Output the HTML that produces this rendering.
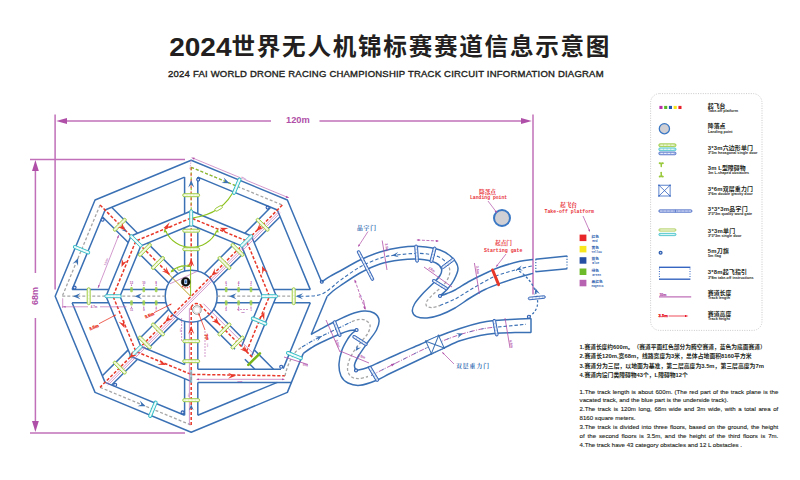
<!DOCTYPE html>
<html><head><meta charset="utf-8"><title>2024 FAI World Drone Racing Championship Track Circuit Information Diagram</title>
<style>html,body{margin:0;padding:0;background:#fff}body{width:800px;height:480px;overflow:hidden;font-family:"Liberation Sans",sans-serif}svg{display:block}</style>
</head><body>
<svg width="800" height="480" viewBox="0 0 800 480" font-family="Liberation Sans, sans-serif">
<g opacity="0.999"><line x1="55.1" y1="114.5" x2="55.1" y2="289.4" stroke="#c06fb8" stroke-width="1.5" /><line x1="533" y1="114.5" x2="533" y2="294.5" stroke="#c06fb8" stroke-width="1.5" /><line x1="62" y1="121" x2="271" y2="121" stroke="#c06fb8" stroke-width="1.5" /><line x1="319.5" y1="121" x2="526" y2="121" stroke="#c06fb8" stroke-width="1.5" /><polygon points="56.2,121 67,118 67,124" fill="#b04fa8"/><polygon points="531.8,121 521,118 521,124" fill="#b04fa8"/><text x="297.9" y="123.2" font-size="8.6" fill="#b04fa8" text-anchor="middle" font-weight="bold" font-family="Liberation Sans, sans-serif" textLength="23.8" lengthAdjust="spacingAndGlyphs" >120m</text><line x1="30" y1="159.5" x2="185" y2="159.5" stroke="#c06fb8" stroke-width="1.5" /><line x1="30" y1="433.1" x2="185" y2="433.1" stroke="#c06fb8" stroke-width="1.5" /><line x1="35.4" y1="166" x2="35.4" y2="273" stroke="#c06fb8" stroke-width="1.5" /><line x1="35.4" y1="318" x2="35.4" y2="426" stroke="#c06fb8" stroke-width="1.5" /><polygon points="35.4,160 32,171 38.8,171" fill="#b04fa8"/><polygon points="35.4,432 32,421 38.8,421" fill="#b04fa8"/><text x="38.2" y="296" font-size="8.8" fill="#b04fa8" text-anchor="middle" font-weight="bold" font-family="Liberation Sans, sans-serif" transform="rotate(-90 38.2 296)" textLength="18" lengthAdjust="spacingAndGlyphs" >68m</text><polyline points="321.6,282 287.37,200.03 191.2,160.2 95.03,200.03 55.2,296.2 95.03,392.37 191.2,432.2 287.37,392.37 303.2,353.6" fill="none" stroke="#3a70b4" stroke-width="1.5" stroke-linejoin="round" /><polyline points="327.2,296.2 311.2,334.5" fill="none" stroke="#3a70b4" stroke-width="1.5" stroke-linejoin="round" /><polyline points="197.8,177.11 277.34,210.06 310.29,289.6" fill="none" stroke="#3a70b4" stroke-width="1.5" stroke-linejoin="round" /><polyline points="310.29,302.8 283.2,368.6" fill="none" stroke="#3a70b4" stroke-width="1.5" stroke-linejoin="round" /><polyline points="197.8,415.29 277.34,382.34" fill="none" stroke="#3a70b4" stroke-width="1.5" stroke-linejoin="round" /><polyline points="184.6,415.29 105.06,382.34 72.11,302.8" fill="none" stroke="#3a70b4" stroke-width="1.5" stroke-linejoin="round" /><polyline points="72.11,289.6 105.06,210.06 184.6,177.11" fill="none" stroke="#3a70b4" stroke-width="1.5" stroke-linejoin="round" /><line x1="197.8" y1="271.05" x2="197.8" y2="227.73" stroke="#3a70b4" stroke-width="1.5" /><line x1="197.8" y1="213.73" x2="197.8" y2="177.11" stroke="#3a70b4" stroke-width="1.5" /><line x1="184.6" y1="271.05" x2="184.6" y2="227.73" stroke="#3a70b4" stroke-width="1.5" /><line x1="184.6" y1="213.73" x2="184.6" y2="177.11" stroke="#3a70b4" stroke-width="1.5" /><line x1="216.35" y1="302.8" x2="259.67" y2="302.8" stroke="#3a70b4" stroke-width="1.5" /><line x1="273.67" y1="302.8" x2="310.29" y2="302.8" stroke="#3a70b4" stroke-width="1.5" /><line x1="216.35" y1="289.6" x2="259.67" y2="289.6" stroke="#3a70b4" stroke-width="1.5" /><line x1="273.67" y1="289.6" x2="310.29" y2="289.6" stroke="#3a70b4" stroke-width="1.5" /><line x1="166.05" y1="289.6" x2="122.73" y2="289.6" stroke="#3a70b4" stroke-width="1.5" /><line x1="108.73" y1="289.6" x2="72.11" y2="289.6" stroke="#3a70b4" stroke-width="1.5" /><line x1="166.05" y1="302.8" x2="122.73" y2="302.8" stroke="#3a70b4" stroke-width="1.5" /><line x1="108.73" y1="302.8" x2="72.11" y2="302.8" stroke="#3a70b4" stroke-width="1.5" /><line x1="184.6" y1="321.35" x2="184.6" y2="364.67" stroke="#3a70b4" stroke-width="1.5" /><line x1="184.6" y1="378.67" x2="184.6" y2="415.29" stroke="#3a70b4" stroke-width="1.5" /><line x1="197.8" y1="321.35" x2="197.8" y2="369.2" stroke="#3a70b4" stroke-width="1.5" /><line x1="197.8" y1="382.4" x2="197.8" y2="415.29" stroke="#3a70b4" stroke-width="1.5" /><line x1="213.65" y1="283.08" x2="244.28" y2="252.45" stroke="#3a70b4" stroke-width="1.5" /><line x1="254.18" y1="242.55" x2="280.07" y2="216.66" stroke="#3a70b4" stroke-width="1.5" /><line x1="204.32" y1="273.75" x2="234.95" y2="243.12" stroke="#3a70b4" stroke-width="1.5" /><line x1="244.85" y1="233.22" x2="270.74" y2="207.33" stroke="#3a70b4" stroke-width="1.5" /><line x1="168.75" y1="309.32" x2="138.12" y2="339.95" stroke="#3a70b4" stroke-width="1.5" /><line x1="128.22" y1="349.85" x2="102.33" y2="375.74" stroke="#3a70b4" stroke-width="1.5" /><line x1="178.08" y1="318.65" x2="147.45" y2="349.28" stroke="#3a70b4" stroke-width="1.5" /><line x1="137.55" y1="359.18" x2="111.66" y2="385.07" stroke="#3a70b4" stroke-width="1.5" /><line x1="178.08" y1="273.75" x2="147.45" y2="243.12" stroke="#3a70b4" stroke-width="1.5" /><line x1="137.55" y1="233.22" x2="111.66" y2="207.33" stroke="#3a70b4" stroke-width="1.5" /><line x1="168.75" y1="283.08" x2="138.12" y2="252.45" stroke="#3a70b4" stroke-width="1.5" /><line x1="128.22" y1="242.55" x2="102.33" y2="216.66" stroke="#3a70b4" stroke-width="1.5" /><line x1="204.32" y1="318.65" x2="234.95" y2="349.28" stroke="#3a70b4" stroke-width="1.5" /><line x1="244.85" y1="359.18" x2="254.87" y2="369.2" stroke="#3a70b4" stroke-width="1.5" /><line x1="213.65" y1="309.32" x2="244.28" y2="339.95" stroke="#3a70b4" stroke-width="1.5" /><line x1="254.18" y1="349.85" x2="273.53" y2="369.2" stroke="#3a70b4" stroke-width="1.5" /><circle cx="191.2" cy="296.2" r="26" fill="none" stroke="#3a70b4" stroke-width="1.5"/><polyline points="251.45,356.45 276.4,296.2 251.45,235.95 191.2,211 130.95,235.95 106,296.2 130.95,356.45 191.2,381.4" fill="none" stroke="#3a70b4" stroke-width="1.5" stroke-linejoin="round" /><polyline points="241.55,346.55 262.4,296.2 241.55,245.85 191.2,225 140.85,245.85 120,296.2 140.85,346.55 184.6,364.67" fill="none" stroke="#3a70b4" stroke-width="1.5" stroke-linejoin="round" /><line x1="197.8" y1="369.2" x2="281" y2="369.2" stroke="#3a70b4" stroke-width="1.5" /><line x1="197.8" y1="382.4" x2="291.5" y2="382.4" stroke="#3a70b4" stroke-width="1.5" /><polyline points="191.2,167.29 282.35,205.05" fill="none" stroke="#a6a6a6" stroke-width="1.3" stroke-linejoin="round" stroke-dasharray="3 2" /><polyline points="100.05,205.05 62.29,296.2" fill="none" stroke="#a6a6a6" stroke-width="1.3" stroke-linejoin="round" stroke-dasharray="3 2" /><polyline points="100.05,387.35 191.2,425.11" fill="none" stroke="#a6a6a6" stroke-width="1.3" stroke-linejoin="round" stroke-dasharray="3 2" /><polyline points="191.2,167.29 238.6,186.92" fill="none" stroke="#8dc21f" stroke-width="1.1" stroke-linejoin="round" stroke-dasharray="3 2" /><line x1="62.29" y1="296.2" x2="165.2" y2="296.2" stroke="#a6a6a6" stroke-width="1.3" stroke-dasharray="3 2" /><line x1="217.2" y1="296.2" x2="300" y2="296.2" stroke="#a6a6a6" stroke-width="1.3" stroke-dasharray="3 2" /><line x1="191.2" y1="167.29" x2="191.2" y2="216.2" stroke="#8dc21f" stroke-width="1.1" stroke-dasharray="3 2" /><line x1="191.1" y1="167.29" x2="191.1" y2="218.2" stroke="#e8382a" stroke-width="0.9" stroke-dasharray="3 3" /><line x1="191.2" y1="218.2" x2="191.2" y2="266.2" stroke="#e8382a" stroke-width="1.5" stroke-dasharray="3.2 1.8" /><line x1="191.2" y1="425.11" x2="191.2" y2="306.2" stroke="#e8382a" stroke-width="1.5" stroke-dasharray="3.2 1.8" /><path d="M191.2 307.2 Q194.2 301.2 201.2 305.2" fill="none" stroke="#e8382a" stroke-width="1.5" stroke-linecap="butt" stroke-linejoin="round" stroke-dasharray="3.2 1.8" /><line x1="100.05" y1="205.05" x2="169.99" y2="274.99" stroke="#e8382a" stroke-width="1.5" stroke-dasharray="3.2 1.8" /><line x1="282.35" y1="205.05" x2="100.05" y2="387.35" stroke="#e8382a" stroke-width="1.5" stroke-dasharray="3.2 1.8" /><line x1="200.39" y1="305.39" x2="254" y2="359" stroke="#e8382a" stroke-width="1.5" stroke-dasharray="3.2 1.8" /><polyline points="246.5,351.5 269.4,296.2 246.5,240.9 191.2,218 135.9,240.9 113,296.2 135.9,351.5 191.2,374.4 285,375.8" fill="none" stroke="#e8382a" stroke-width="1.5" stroke-linejoin="round" stroke-dasharray="3.2 1.8" /><path d="M285 375.8 C285.25 374.83 285.67 372.47 286.5 370 C287.33 367.53 288.5 364 290 361 C291.5 358 293.5 354.33 295.5 352 C297.5 349.67 300.92 347.83 302 347" fill="none" stroke="#a6a6a6" stroke-width="1.3" stroke-linecap="butt" stroke-linejoin="round" stroke-dasharray="3 2" /><line x1="279.02" y1="211.49" x2="106.49" y2="384.02" stroke="#c06fb8" stroke-width="0.7" /><line x1="280.3" y1="212.76" x2="107.76" y2="385.3" stroke="#c06fb8" stroke-width="0.7" /><line x1="203.5" y1="303.7" x2="254.41" y2="354.61" stroke="#c06fb8" stroke-width="0.7" /><line x1="189.4" y1="308.2" x2="189.4" y2="425.11" stroke="#c06fb8" stroke-width="0.7" /><line x1="170" y1="283.8" x2="197.5" y2="271.2" stroke="#c06fb8" stroke-width="0.7" /><line x1="193.16" y1="158.21" x2="240.27" y2="177.73" stroke="#c06fb8" stroke-width="0.7" /><line x1="246.16" y1="180.17" x2="287.38" y2="197.24" stroke="#c06fb8" stroke-width="0.7" /><polygon points="191.2,157.4 194.84,157.77 194.03,159.71" fill="#b04fa8"/><polygon points="289.35,198.05 285.71,197.68 286.51,195.74" fill="#b04fa8"/><text x="243.22" y="179.45" font-size="2.8" fill="#b04fa8" text-anchor="middle" font-weight="bold" font-family="Liberation Sans, sans-serif" transform="rotate(22.5 243.22 179.45)" >37m</text><line x1="191.2" y1="160" x2="189.7" y2="170" stroke="#c06fb8" stroke-width="0.6" stroke-dasharray="1.5 1" /><line x1="118.8" y1="235" x2="98" y2="288" stroke="#c06fb8" stroke-width="0.7" /><polygon points="118.8,235 118.54,238.12 116.87,237.46" fill="#b04fa8"/><polygon points="98,288 98.26,284.88 99.93,285.54" fill="#b04fa8"/><text x="107" y="262" font-size="2.6" fill="#b04fa8" text-anchor="middle" font-weight="bold" font-family="Liberation Sans, sans-serif" transform="rotate(-68 107 262)" >13.5m</text><line x1="62" y1="306.8" x2="88" y2="306.8" stroke="#c06fb8" stroke-width="0.7" /><line x1="100" y1="306.8" x2="126.4" y2="306.8" stroke="#c06fb8" stroke-width="0.7" /><text x="94" y="307.8" font-size="2.8" fill="#b04fa8" text-anchor="middle" font-weight="bold" font-family="Liberation Sans, sans-serif" >4.7m</text><line x1="62.7" y1="298.3" x2="62.7" y2="308" stroke="#c06fb8" stroke-width="0.7" /><polygon points="63,306.8 65.6,305.89 65.6,307.71" fill="#b04fa8"/><line x1="197" y1="379.3" x2="284" y2="379.3" stroke="#c06fb8" stroke-width="0.7" /><polygon points="196,379.3 199,378.4 199,380.2" fill="#b04fa8"/><polygon points="285,379.3 282,380.2 282,378.4" fill="#b04fa8"/><text x="240" y="381.8" font-size="2.4" fill="#b04fa8" text-anchor="middle" font-weight="bold" font-family="Liberation Sans, sans-serif" >23m</text><line x1="181.6" y1="318" x2="181.6" y2="341" stroke="#c06fb8" stroke-width="0.7" stroke-dasharray="2 1" /><line x1="205" y1="331" x2="205" y2="358" stroke="#c06fb8" stroke-width="0.7" stroke-dasharray="2 1" /><text x="180.5" y="330" font-size="2.4" fill="#b04fa8" text-anchor="middle" font-weight="bold" font-family="Liberation Sans, sans-serif" transform="rotate(-90 180.5 330)" >5m</text><text x="208" y="345" font-size="2.4" fill="#b04fa8" text-anchor="middle" font-weight="bold" font-family="Liberation Sans, sans-serif" transform="rotate(-90 208 345)" >6m</text><text x="188.5" y="395" font-size="2.4" fill="#b04fa8" text-anchor="middle" font-weight="bold" font-family="Liberation Sans, sans-serif" transform="rotate(-90 188.5 395)" >8m</text><line x1="237" y1="309.5" x2="249" y2="309.5" stroke="#c06fb8" stroke-width="0.7" stroke-dasharray="2 1" /><text x="243" y="312.5" font-size="2.4" fill="#b04fa8" text-anchor="middle" font-weight="bold" font-family="Liberation Sans, sans-serif" >3m</text><path d="M165.8 231.2 A28 28 0 0 0 216.6 231.2" fill="none" stroke="#8dc21f" stroke-width="1.1" stroke-linecap="butt" stroke-linejoin="round" /><polygon points="164.6,228.4 166.87,232.06 163.72,232.62" fill="#8dc21f"/><polygon points="217.8,228.4 218.68,232.62 215.53,232.06" fill="#8dc21f"/><path d="M191.2 218.2 Q 224 214 235 188" fill="none" stroke="#8dc21f" stroke-width="1.1" stroke-linecap="butt" stroke-linejoin="round" /><g transform="translate(218.6 208.4) rotate(-30)"><rect x="-4" y="-1.5" width="8" height="3" rx="1.5" fill="#fff" stroke="#8dc21f" stroke-width="0.8"/></g><line x1="190.6" y1="296.2" x2="190.6" y2="266" stroke="#8dc21f" stroke-width="1.0" /><line x1="190.6" y1="296.2" x2="168" y2="273.5" stroke="#b8a020" stroke-width="1.0" /><path d="M171 271.5 Q 180 264 190.4 266.5" fill="none" stroke="#8dc21f" stroke-width="1.1" stroke-linecap="butt" stroke-linejoin="round" /><polygon points="170.6,272.4 172.43,268.98 174.28,271.19" fill="#8dc21f"/><polygon points="191,266.3 187.15,266.76 187.9,263.98" fill="#8dc21f"/><g transform="translate(180.5 268.3) rotate(-20)"><rect x="-3" y="-1.5" width="6" height="3" rx="1.5" fill="#fff" stroke="#8dc21f" stroke-width="0.8"/></g><path d="M182 286 Q 186 289.5 190 286.5" fill="none" stroke="#e8382a" stroke-width="1.1" stroke-linecap="butt" stroke-linejoin="round" stroke-dasharray="1.6 1" /><circle cx="185.7" cy="281.9" r="4.4" fill="#111" stroke="#000" stroke-width="0.5"/><rect x="184.2" y="279.3" width="3" height="5" rx="0.8" fill="#cfe0ff"/><rect x="184.9" y="280.4" width="1.6" height="2.6" fill="#3a70b4"/><circle cx="196.9" cy="310" r="4.3" fill="#fff" stroke="#8a8a8a" stroke-width="0.9"/><circle cx="196.9" cy="310" r="3" fill="#fff" stroke="#c8c8c8" stroke-width="0.5"/><line x1="154" y1="312.7" x2="171" y2="304.2" stroke="#e8382a" stroke-width="0.8" /><polygon points="172,303.7 170.16,305.6 169.37,304.04" fill="#e8382a"/><text x="145.4" y="318.6" font-size="4.3" fill="#e8382a" text-anchor="start" font-weight="bold" font-family="Liberation Sans, sans-serif" transform="rotate(-22 145.4 318.6)" stroke="#e8382a" stroke-width="0.3">3.5m</text><line x1="198.8" y1="313.8" x2="205" y2="330" stroke="#e8382a" stroke-width="0.8" /><polygon points="198.5,313 200.21,315.02 198.58,315.65" fill="#e8382a"/><text x="204.6" y="334.5" font-size="4.3" fill="#e8382a" text-anchor="start" font-weight="bold" font-family="Liberation Sans, sans-serif" transform="rotate(72 204.6 334.5)" stroke="#e8382a" stroke-width="0.3">7m</text><text x="90" y="330.4" font-size="4.3" fill="#e8382a" text-anchor="start" font-weight="bold" font-family="Liberation Sans, sans-serif" transform="rotate(-22 90 330.4)" stroke="#e8382a" stroke-width="0.3">3.5m</text><line x1="99" y1="323.7" x2="115.4" y2="315.1" stroke="#e8382a" stroke-width="0.8" /><polygon points="116.2,314.7 114.39,316.63 113.58,315.08" fill="#e8382a"/><g transform="translate(191.2 195.2) rotate(0)"><rect x="-8.5" y="-1.5" width="17" height="3" rx="1.5" fill="#eaf5cf" stroke="#9ccb3c" stroke-width="0.9"/><line x1="-7" y1="0" x2="7" y2="0" stroke="#fff" stroke-width="0.9" stroke-dasharray="2.2 1.2"/></g><g transform="translate(191.2 230.7) rotate(0)"><rect x="-8.5" y="-1.5" width="17" height="3" rx="1.5" fill="#eaf5cf" stroke="#9ccb3c" stroke-width="0.9"/><line x1="-7" y1="0" x2="7" y2="0" stroke="#fff" stroke-width="0.9" stroke-dasharray="2.2 1.2"/></g><g transform="translate(191.2 249.2) rotate(0)"><rect x="-8.5" y="-1.5" width="17" height="3" rx="1.5" fill="#eaf5cf" stroke="#9ccb3c" stroke-width="0.9"/><line x1="-7" y1="0" x2="7" y2="0" stroke="#fff" stroke-width="0.9" stroke-dasharray="2.2 1.2"/></g><g transform="translate(262.62 224.78) rotate(45)"><rect x="-8.5" y="-1.5" width="17" height="3" rx="1.5" fill="#eaf5cf" stroke="#9ccb3c" stroke-width="0.9"/><line x1="-7" y1="0" x2="7" y2="0" stroke="#fff" stroke-width="0.9" stroke-dasharray="2.2 1.2"/></g><g transform="translate(237.52 249.88) rotate(45)"><rect x="-8.5" y="-1.5" width="17" height="3" rx="1.5" fill="#eaf5cf" stroke="#9ccb3c" stroke-width="0.9"/><line x1="-7" y1="0" x2="7" y2="0" stroke="#fff" stroke-width="0.9" stroke-dasharray="2.2 1.2"/></g><g transform="translate(224.43 262.97) rotate(45)"><rect x="-8.5" y="-1.5" width="17" height="3" rx="1.5" fill="#eaf5cf" stroke="#9ccb3c" stroke-width="0.9"/><line x1="-7" y1="0" x2="7" y2="0" stroke="#fff" stroke-width="0.9" stroke-dasharray="2.2 1.2"/></g><g transform="translate(237.52 342.52) rotate(135)"><rect x="-8.5" y="-1.5" width="17" height="3" rx="1.5" fill="#eaf5cf" stroke="#9ccb3c" stroke-width="0.9"/><line x1="-7" y1="0" x2="7" y2="0" stroke="#fff" stroke-width="0.9" stroke-dasharray="2.2 1.2"/></g><g transform="translate(224.43 329.43) rotate(135)"><rect x="-8.5" y="-1.5" width="17" height="3" rx="1.5" fill="#eaf5cf" stroke="#9ccb3c" stroke-width="0.9"/><line x1="-7" y1="0" x2="7" y2="0" stroke="#fff" stroke-width="0.9" stroke-dasharray="2.2 1.2"/></g><g transform="translate(191.2 400.2) rotate(180)"><rect x="-8.5" y="-1.5" width="17" height="3" rx="1.5" fill="#eaf5cf" stroke="#9ccb3c" stroke-width="0.9"/><line x1="-7" y1="0" x2="7" y2="0" stroke="#fff" stroke-width="0.9" stroke-dasharray="2.2 1.2"/></g><g transform="translate(191.2 361.2) rotate(180)"><rect x="-8.5" y="-1.5" width="17" height="3" rx="1.5" fill="#eaf5cf" stroke="#9ccb3c" stroke-width="0.9"/><line x1="-7" y1="0" x2="7" y2="0" stroke="#fff" stroke-width="0.9" stroke-dasharray="2.2 1.2"/></g><g transform="translate(191.2 341.2) rotate(180)"><rect x="-8.5" y="-1.5" width="17" height="3" rx="1.5" fill="#eaf5cf" stroke="#9ccb3c" stroke-width="0.9"/><line x1="-7" y1="0" x2="7" y2="0" stroke="#fff" stroke-width="0.9" stroke-dasharray="2.2 1.2"/></g><g transform="translate(119.78 367.62) rotate(225)"><rect x="-8.5" y="-1.5" width="17" height="3" rx="1.5" fill="#eaf5cf" stroke="#9ccb3c" stroke-width="0.9"/><line x1="-7" y1="0" x2="7" y2="0" stroke="#fff" stroke-width="0.9" stroke-dasharray="2.2 1.2"/></g><g transform="translate(144.88 342.52) rotate(225)"><rect x="-8.5" y="-1.5" width="17" height="3" rx="1.5" fill="#eaf5cf" stroke="#9ccb3c" stroke-width="0.9"/><line x1="-7" y1="0" x2="7" y2="0" stroke="#fff" stroke-width="0.9" stroke-dasharray="2.2 1.2"/></g><g transform="translate(157.97 329.43) rotate(225)"><rect x="-8.5" y="-1.5" width="17" height="3" rx="1.5" fill="#eaf5cf" stroke="#9ccb3c" stroke-width="0.9"/><line x1="-7" y1="0" x2="7" y2="0" stroke="#fff" stroke-width="0.9" stroke-dasharray="2.2 1.2"/></g><g transform="translate(119.78 224.78) rotate(-45)"><rect x="-8.5" y="-1.5" width="17" height="3" rx="1.5" fill="#eaf5cf" stroke="#9ccb3c" stroke-width="0.9"/><line x1="-7" y1="0" x2="7" y2="0" stroke="#fff" stroke-width="0.9" stroke-dasharray="2.2 1.2"/></g><g transform="translate(144.88 249.88) rotate(-45)"><rect x="-8.5" y="-1.5" width="17" height="3" rx="1.5" fill="#eaf5cf" stroke="#9ccb3c" stroke-width="0.9"/><line x1="-7" y1="0" x2="7" y2="0" stroke="#fff" stroke-width="0.9" stroke-dasharray="2.2 1.2"/></g><g transform="translate(157.97 262.97) rotate(-45)"><rect x="-8.5" y="-1.5" width="17" height="3" rx="1.5" fill="#eaf5cf" stroke="#9ccb3c" stroke-width="0.9"/><line x1="-7" y1="0" x2="7" y2="0" stroke="#fff" stroke-width="0.9" stroke-dasharray="2.2 1.2"/></g><g transform="translate(88.7 296.2) rotate(90)"><rect x="-8.5" y="-1.5" width="17" height="3" rx="1.5" fill="#eaf5cf" stroke="#9ccb3c" stroke-width="0.9"/><line x1="-7" y1="0" x2="7" y2="0" stroke="#fff" stroke-width="0.9" stroke-dasharray="2.2 1.2"/></g><g transform="translate(293.7 296.2) rotate(90)"><rect x="-8.5" y="-1.5" width="17" height="3" rx="1.5" fill="#eaf5cf" stroke="#9ccb3c" stroke-width="0.9"/><line x1="-7" y1="0" x2="7" y2="0" stroke="#fff" stroke-width="0.9" stroke-dasharray="2.2 1.2"/></g><line x1="248.33" y1="364.93" x2="259.93" y2="353.33" stroke="#7ab51d" stroke-width="2.6" stroke-linecap="round"/><g transform="translate(191.2 218) rotate(-90)"><rect x="-8.25" y="-1.5" width="16.5" height="3" rx="1.5" fill="#dff5f6" stroke="#2fbcc4" stroke-width="0.9"/><line x1="-6.75" y1="0" x2="6.75" y2="0" stroke="#fff" stroke-width="0.9" stroke-dasharray="2.2 1.2"/></g><g transform="translate(246.5 240.9) rotate(-45)"><rect x="-8.25" y="-1.5" width="16.5" height="3" rx="1.5" fill="#dff5f6" stroke="#2fbcc4" stroke-width="0.9"/><line x1="-6.75" y1="0" x2="6.75" y2="0" stroke="#fff" stroke-width="0.9" stroke-dasharray="2.2 1.2"/></g><g transform="translate(269.4 296.2) rotate(0)"><rect x="-8.25" y="-1.5" width="16.5" height="3" rx="1.5" fill="#dff5f6" stroke="#2fbcc4" stroke-width="0.9"/><line x1="-6.75" y1="0" x2="6.75" y2="0" stroke="#fff" stroke-width="0.9" stroke-dasharray="2.2 1.2"/></g><g transform="translate(135.9 351.5) rotate(135)"><rect x="-8.25" y="-1.5" width="16.5" height="3" rx="1.5" fill="#dff5f6" stroke="#2fbcc4" stroke-width="0.9"/><line x1="-6.75" y1="0" x2="6.75" y2="0" stroke="#fff" stroke-width="0.9" stroke-dasharray="2.2 1.2"/></g><g transform="translate(113 296.2) rotate(180)"><rect x="-8.25" y="-1.5" width="16.5" height="3" rx="1.5" fill="#dff5f6" stroke="#2fbcc4" stroke-width="0.9"/><line x1="-6.75" y1="0" x2="6.75" y2="0" stroke="#fff" stroke-width="0.9" stroke-dasharray="2.2 1.2"/></g><g transform="translate(135.9 240.9) rotate(-135)"><rect x="-8.25" y="-1.5" width="16.5" height="3" rx="1.5" fill="#dff5f6" stroke="#2fbcc4" stroke-width="0.9"/><line x1="-6.75" y1="0" x2="6.75" y2="0" stroke="#fff" stroke-width="0.9" stroke-dasharray="2.2 1.2"/></g><line x1="191.2" y1="370" x2="191.2" y2="383" stroke="#7fb6c8" stroke-width="2" opacity="0.8"/><g transform="translate(259.09 321.08) rotate(202.5)"><rect x="-8.25" y="-1.5" width="16.5" height="3" rx="1.5" fill="#dff5f6" stroke="#2fbcc4" stroke-width="0.9"/><line x1="-6.75" y1="0" x2="6.75" y2="0" stroke="#fff" stroke-width="0.9" stroke-dasharray="2.2 1.2"/></g><g transform="translate(81.55 249.71) rotate(202.5)"><rect x="-8.75" y="-1.5" width="17.5" height="3" rx="1.5" fill="#dff5f6" stroke="#2fbcc4" stroke-width="0.9"/><line x1="-7.25" y1="0" x2="7.25" y2="0" stroke="#fff" stroke-width="0.9" stroke-dasharray="2.2 1.2"/></g><g transform="translate(236.78 186.17) rotate(112.5)"><rect x="-8.75" y="-1.5" width="17.5" height="3" rx="1.5" fill="#dff5f6" stroke="#2fbcc4" stroke-width="0.9"/><line x1="-7.25" y1="0" x2="7.25" y2="0" stroke="#fff" stroke-width="0.9" stroke-dasharray="2.2 1.2"/></g><g transform="translate(152.92 409.25) rotate(112.5)"><rect x="-8.75" y="-1.5" width="17.5" height="3" rx="1.5" fill="#dff5f6" stroke="#2fbcc4" stroke-width="0.9"/><line x1="-7.25" y1="0" x2="7.25" y2="0" stroke="#fff" stroke-width="0.9" stroke-dasharray="2.2 1.2"/></g><g transform="translate(294.4 355.6) rotate(22.5)"><rect x="-8.5" y="-1.5" width="17" height="3" rx="1.5" fill="#dff5f6" stroke="#2fbcc4" stroke-width="0.9"/><line x1="-7" y1="0" x2="7" y2="0" stroke="#fff" stroke-width="0.9" stroke-dasharray="2.2 1.2"/></g><rect x="130.2" y="287" width="2.6" height="5.2" rx="1" fill="#9fd04a" opacity="0.85"/><circle cx="131.5" cy="285.2" r="0.6" fill="#b04fa8"/><rect x="130.2" y="300.2" width="2.6" height="5.2" rx="1" fill="#9fd04a" opacity="0.85"/><circle cx="131.5" cy="307.2" r="0.6" fill="#b04fa8"/><text x="131.5" y="283.8" font-size="3.0" fill="#b04fa8" text-anchor="middle" font-weight="bold" font-family="Liberation Sans, sans-serif" >12</text><text x="131.5" y="311" font-size="3.0" fill="#b04fa8" text-anchor="middle" font-weight="bold" font-family="Liberation Sans, sans-serif" >11</text><rect x="142.5" y="287" width="2.6" height="5.2" rx="1" fill="#9fd04a" opacity="0.85"/><circle cx="143.8" cy="285.2" r="0.6" fill="#b04fa8"/><rect x="142.5" y="300.2" width="2.6" height="5.2" rx="1" fill="#9fd04a" opacity="0.85"/><circle cx="143.8" cy="307.2" r="0.6" fill="#b04fa8"/><text x="143.8" y="283.8" font-size="3.0" fill="#b04fa8" text-anchor="middle" font-weight="bold" font-family="Liberation Sans, sans-serif" >10</text><text x="143.8" y="311" font-size="3.0" fill="#b04fa8" text-anchor="middle" font-weight="bold" font-family="Liberation Sans, sans-serif" >9</text><rect x="154.9" y="287" width="2.6" height="5.2" rx="1" fill="#9fd04a" opacity="0.85"/><circle cx="156.2" cy="285.2" r="0.6" fill="#b04fa8"/><rect x="154.9" y="300.2" width="2.6" height="5.2" rx="1" fill="#9fd04a" opacity="0.85"/><circle cx="156.2" cy="307.2" r="0.6" fill="#b04fa8"/><text x="156.2" y="283.8" font-size="3.0" fill="#b04fa8" text-anchor="middle" font-weight="bold" font-family="Liberation Sans, sans-serif" >8</text><text x="156.2" y="311" font-size="3.0" fill="#b04fa8" text-anchor="middle" font-weight="bold" font-family="Liberation Sans, sans-serif" >7</text><rect x="224.9" y="287" width="2.6" height="5.2" rx="1" fill="#9fd04a" opacity="0.85"/><circle cx="226.2" cy="285.2" r="0.6" fill="#b04fa8"/><rect x="224.9" y="300.2" width="2.6" height="5.2" rx="1" fill="#9fd04a" opacity="0.85"/><circle cx="226.2" cy="307.2" r="0.6" fill="#b04fa8"/><text x="226.2" y="283.8" font-size="3.0" fill="#b04fa8" text-anchor="middle" font-weight="bold" font-family="Liberation Sans, sans-serif" >6</text><text x="226.2" y="311" font-size="3.0" fill="#b04fa8" text-anchor="middle" font-weight="bold" font-family="Liberation Sans, sans-serif" >5</text><rect x="237.3" y="287" width="2.6" height="5.2" rx="1" fill="#9fd04a" opacity="0.85"/><circle cx="238.6" cy="285.2" r="0.6" fill="#b04fa8"/><rect x="237.3" y="300.2" width="2.6" height="5.2" rx="1" fill="#9fd04a" opacity="0.85"/><circle cx="238.6" cy="307.2" r="0.6" fill="#b04fa8"/><text x="238.6" y="283.8" font-size="3.0" fill="#b04fa8" text-anchor="middle" font-weight="bold" font-family="Liberation Sans, sans-serif" >4</text><text x="238.6" y="311" font-size="3.0" fill="#b04fa8" text-anchor="middle" font-weight="bold" font-family="Liberation Sans, sans-serif" >3</text><rect x="249.7" y="287" width="2.6" height="5.2" rx="1" fill="#9fd04a" opacity="0.85"/><circle cx="251" cy="285.2" r="0.6" fill="#b04fa8"/><rect x="249.7" y="300.2" width="2.6" height="5.2" rx="1" fill="#9fd04a" opacity="0.85"/><circle cx="251" cy="307.2" r="0.6" fill="#b04fa8"/><text x="251" y="283.8" font-size="3.0" fill="#b04fa8" text-anchor="middle" font-weight="bold" font-family="Liberation Sans, sans-serif" >2</text><text x="251" y="311" font-size="3.0" fill="#b04fa8" text-anchor="middle" font-weight="bold" font-family="Liberation Sans, sans-serif" >1</text><polygon points="191.2,180 194.2,187.5 191.2,184.5 188.2,187.5" fill="#3a70b4"/><polygon points="229.48,183.15 221.41,183.05 225.33,181.43 223.7,177.51" fill="#3a70b4"/><polygon points="78.15,257.92 78.05,265.99 76.43,262.07 72.51,263.7" fill="#3a70b4"/><polygon points="73,296.2 80.5,293.2 77.5,296.2 80.5,299.2" fill="#3a70b4"/><polygon points="134.5,296.2 142,293.2 139,296.2 142,299.2" fill="#3a70b4"/><polygon points="229,296.2 236.5,293.2 233.5,296.2 236.5,299.2" fill="#3a70b4"/><polygon points="295.5,296.2 303,293.2 300,296.2 303,299.2" fill="#3a70b4"/><polygon points="145.62,406.23 137.55,406.13 141.47,404.51 139.84,400.59" fill="#3a70b4"/><polygon points="191.2,404.3 193.6,410.3 191.2,407.9 188.8,410.3" fill="#3a70b4"/><polygon points="126.5,232 121.06,229.67 124.17,229.67 124.17,226.56" fill="#3a70b4"/><polygon points="163.5,228 169.74,222.17 167.93,226.16 172.04,227.71" fill="#e8382a"/><polygon points="220,227.8 228.54,228.09 224.43,229.64 226.24,233.63" fill="#e8382a"/><polygon points="121.5,267 121.79,258.46 123.34,262.57 127.33,260.76" fill="#e8382a"/><polygon points="124.5,328 118.67,321.76 122.66,323.57 124.21,319.46" fill="#e8382a"/><polygon points="166,365 157.46,364.71 161.57,363.16 159.76,359.17" fill="#e8382a"/><polygon points="236,375.8 228,378.8 231.2,375.8 228,372.8" fill="#e8382a"/><polygon points="264.5,312 264.21,320.54 262.66,316.43 258.67,318.24" fill="#e8382a"/><polygon points="262,266 267.83,272.24 263.84,270.43 262.29,274.54" fill="#e8382a"/><polygon points="191.2,258.5 194.2,266.5 191.2,263.3 188.2,266.5" fill="#e8382a"/><polygon points="191.2,326 194.2,334 191.2,330.8 188.2,334" fill="#e8382a"/><polygon points="169.63,274.63 161.86,271.1 166.24,271.24 166.1,266.86" fill="#e8382a"/><polygon points="125.44,230.44 117.66,226.9 122.04,227.04 121.9,222.66" fill="#e8382a"/><polygon points="256.25,231.15 259.79,223.37 259.65,227.75 264.03,227.61" fill="#e8382a"/><polygon points="211.35,276.05 214.89,268.27 214.75,272.65 219.13,272.51" fill="#e8382a"/><polygon points="165.04,322.36 168.57,314.58 168.43,318.97 172.82,318.83" fill="#e8382a"/><polygon points="128.97,358.43 132.51,350.65 132.37,355.03 136.75,354.89" fill="#e8382a"/><polygon points="219.48,324.48 211.71,320.95 216.09,321.09 215.95,316.71" fill="#e8382a"/><polygon points="247.77,352.77 239.99,349.23 244.37,349.37 244.23,344.99" fill="#e8382a"/><circle cx="102.6" cy="219.8" r="1.5" fill="#dbe5f5" stroke="#2f5fb0" stroke-width="1.1"/><circle cx="198.2" cy="179.6" r="1.5" fill="#dbe5f5" stroke="#2f5fb0" stroke-width="1.1"/><circle cx="267.6" cy="207.6" r="1.5" fill="#dbe5f5" stroke="#2f5fb0" stroke-width="1.1"/><circle cx="74.6" cy="287.6" r="1.5" fill="#dbe5f5" stroke="#2f5fb0" stroke-width="1.1"/><circle cx="115.2" cy="384.8" r="1.5" fill="#dbe5f5" stroke="#2f5fb0" stroke-width="1.1"/><circle cx="182.6" cy="412.4" r="1.5" fill="#dbe5f5" stroke="#2f5fb0" stroke-width="1.1"/><circle cx="281.2" cy="366.7" r="1.5" fill="#dbe5f5" stroke="#2f5fb0" stroke-width="1.1"/><circle cx="321.8" cy="281.8" r="1.5" fill="#dbe5f5" stroke="#2f5fb0" stroke-width="1.1"/><path d="M321.6 282 C323 281.05 326.93 278.13 330 276.3 C333.07 274.47 335 273.72 340 271 C345 268.28 353.33 263.17 360 260 C366.67 256.83 373.33 254.08 380 252 C386.67 249.92 393.33 248.42 400 247.5 C406.67 246.58 413.33 246.08 420 246.5 C426.67 246.92 434.67 248.17 440 250 C445.33 251.83 449 254.5 452 257.5 C455 260.5 457.67 264.25 458 268 C458.33 271.75 455.75 276.5 454 280 C452.25 283.5 449.83 286.33 447.5 289 C445.17 291.67 441.25 294.83 440 296 L440 296 C441.17 295.58 444.5 294.5 447 293.5 C449.5 292.5 451.17 292.08 455 290 C458.83 287.92 465 283.75 470 281 C475 278.25 480 275.83 485 273.5 C490 271.17 494.17 269.03 500 267 C505.83 264.97 514.5 262.57 520 261.3 C525.5 260.03 530.83 259.72 533 259.4 " fill="none" stroke="#3a70b4" stroke-width="1.5" stroke-linecap="butt" stroke-linejoin="round" /><path d="M327.4 296.2 C328.33 295.33 330.9 292.7 333 291 C335.1 289.3 335.5 289 340 286 C344.5 283 353.33 276.67 360 273 C366.67 269.33 373.33 266.17 380 264 C386.67 261.83 393.33 260.78 400 260 C406.67 259.22 414 258.8 420 259.3 C426 259.8 432.42 261.38 436 263 C439.58 264.62 440.83 266.92 441.5 269 C442.17 271.08 441.5 273 440 275.5 C438.5 278 435.5 280.83 432.5 284 C429.5 287.17 425 291.17 422 294.5 C419 297.83 416.1 301.17 414.5 304 C412.9 306.83 412.07 309.4 412.4 311.5 C412.73 313.6 414.07 315.52 416.5 316.6 C418.93 317.68 423.08 318.27 427 318 C430.92 317.73 435.33 316.67 440 315 C444.67 313.33 450 310.83 455 308 C460 305.17 465 301.08 470 298 C475 294.92 480 291.93 485 289.5 C490 287.07 495 285.25 500 283.4 C505 281.55 509.5 280.07 515 278.4 C520.5 276.73 530 274.23 533 273.4" fill="none" stroke="#3a70b4" stroke-width="1.5" stroke-linecap="butt" stroke-linejoin="round" /><path d="M300 296.2 C302 296.17 308.33 296.37 312 296 C315.67 295.63 318.83 295.33 322 294 C325.17 292.67 328 290.25 331 288 C334 285.75 335.17 284 340 280.5 C344.83 277 353.33 270.7 360 267 C366.67 263.3 374.33 260.25 380 258.3 C385.67 256.35 387.33 256.12 394 255.3 C400.67 254.48 412.67 253.2 420 253.4 C427.33 253.6 433.5 254.9 438 256.5 C442.5 258.1 445.5 261.92 447 263" fill="none" stroke="#3a70b4" stroke-width="1.1" stroke-linecap="butt" stroke-linejoin="round" stroke-dasharray="3.5 2.2" /><path d="M447 263 C447.43 264 449.27 266.83 449.6 269 C449.93 271.17 449.93 273.42 449 276 C448.07 278.58 446.5 281.58 444 284.5 C441.5 287.42 436.83 290.75 434 293.5 C431.17 296.25 428.25 298.92 427 301 C425.75 303.08 425.67 304.9 426.5 306 C427.33 307.1 429.75 307.68 432 307.6 C434.25 307.52 438.67 305.85 440 305.5" fill="none" stroke="#a6a6a6" stroke-width="1.3" stroke-linecap="butt" stroke-linejoin="round" stroke-dasharray="3 2" /><path d="M440 305.5 C442.5 304.42 450 301.58 455 299 C460 296.42 465 292.95 470 290 C475 287.05 480.67 283.63 485 281.3 C489.33 278.97 491 277.88 496 276 C501 274.12 508.83 271.7 515 270 C521.17 268.3 530 266.5 533 265.8" fill="none" stroke="#3a70b4" stroke-width="1.1" stroke-linecap="butt" stroke-linejoin="round" stroke-dasharray="3.5 2.2" /><polygon points="392,255.6 398.07,252.12 395.86,255.06 398.8,257.27" fill="#3a70b4"/><polygon points="516,269.7 521.61,265.51 519.77,268.69 522.95,270.53" fill="#3a70b4"/><line x1="535.5" y1="259.3" x2="567.3" y2="256" stroke="#3a70b4" stroke-width="1.5" /><line x1="535.5" y1="271.8" x2="567.3" y2="268.7" stroke="#3a70b4" stroke-width="1.5" /><line x1="535.8" y1="259.3" x2="535.8" y2="271.8" stroke="#3a70b4" stroke-width="1.2" stroke-dasharray="1.2 1.6" /><line x1="567" y1="256" x2="567" y2="268.7" stroke="#3a70b4" stroke-width="1.2" stroke-dasharray="1.2 1.6" /><path d="M311.2 334.5 C313 333.47 318.2 330.38 322 328.3 C325.8 326.22 329.33 324.3 334 322 C338.67 319.7 345 316.33 350 314.5 C355 312.67 360 311.25 364 311 C368 310.75 371.5 311.5 374 313 C376.5 314.5 378.58 317.17 379 320 C379.42 322.83 378.33 326.33 376.5 330 C374.67 333.67 371 337.67 368 342 C365 346.33 360.75 352.17 358.5 356 C356.25 359.83 354.92 362.6 354.5 365 C354.08 367.4 355.75 369.5 356 370.4 L356 370.4 C357.17 370.17 360.67 369.65 363 369 C365.33 368.35 367.17 367.67 370 366.5 C372.83 365.33 375 364.25 380 362 C385 359.75 393.33 355.92 400 353 C406.67 350.08 413.67 347.25 420 344.5 C426.33 341.75 431.33 339.17 438 336.5 C444.67 333.83 453 330.78 460 328.5 C467 326.22 474.33 324.13 480 322.8 C485.67 321.47 489 321.05 494 320.5 C499 319.95 503.83 319.82 510 319.5 C516.17 319.18 527.5 318.75 531 318.6 " fill="none" stroke="#3a70b4" stroke-width="1.5" stroke-linecap="butt" stroke-linejoin="round" /><path d="M303.2 353.6 C304.5 352.67 308.2 349.77 311 348 C313.8 346.23 315.17 345.33 320 343 C324.83 340.67 335 336.07 340 334 C345 331.93 347.23 331.27 350 330.6 C352.77 329.93 355.5 330.1 356.6 330 L356.6 330 C355.83 330.58 353.43 332.08 352 333.5 C350.57 334.92 349.67 335.75 348 338.5 C346.33 341.25 343.5 345.75 342 350 C340.5 354.25 339.17 359.67 339 364 C338.83 368.33 339.5 372.83 341 376 C342.5 379.17 344.83 381.45 348 383 C351.17 384.55 355.33 385.72 360 385.3 C364.67 384.88 371 382.47 376 380.5 C381 378.53 384.33 376.25 390 373.5 C395.67 370.75 403.33 367.17 410 364 C416.67 360.83 424.33 357.17 430 354.5 C435.67 351.83 439 350.28 444 348 C449 345.72 454 342.9 460 340.8 C466 338.7 474 336.67 480 335.4 C486 334.13 490.17 333.67 496 333.2 C501.83 332.73 509.17 332.73 515 332.6 C520.83 332.47 528.33 332.43 531 332.4 " fill="none" stroke="#3a70b4" stroke-width="1.5" stroke-linecap="butt" stroke-linejoin="round" /><line x1="531" y1="318.2" x2="531" y2="332.8" stroke="#3a70b4" stroke-width="1.5" /><path d="M302 347 C303.33 346.22 307 343.97 310 342.3 C313 340.63 315 339.48 320 337 C325 334.52 334.67 329.97 340 327.4 C345.33 324.83 350 322.57 352 321.6" fill="none" stroke="#3a70b4" stroke-width="1.1" stroke-linecap="butt" stroke-linejoin="round" stroke-dasharray="4 1.5 1 1.5" /><path d="M352 321.6 C353 321.27 355.83 319.87 358 319.6 C360.17 319.33 363 319.1 365 320 C367 320.9 369.5 322.83 370 325 C370.5 327.17 369.5 330.17 368 333 C366.5 335.83 363.33 339 361 342 C358.67 345 356 347.83 354 351 C352 354.17 350.07 357.83 349 361 C347.93 364.17 347.27 367.42 347.6 370 C347.93 372.58 349.27 375.07 351 376.5 C352.73 377.93 355.17 378.6 358 378.6 C360.83 378.6 366.33 376.85 368 376.5" fill="none" stroke="#a6a6a6" stroke-width="1.3" stroke-linecap="butt" stroke-linejoin="round" stroke-dasharray="3 2" /><path d="M371 375.5 C372.5 374.75 375.17 373.42 380 371 C384.83 368.58 393.33 364.33 400 361 C406.67 357.67 413.33 354.17 420 351 C426.67 347.83 433.33 344.73 440 342 C446.67 339.27 453.33 336.72 460 334.6 C466.67 332.48 474.33 330.53 480 329.3 C485.67 328.07 491.67 327.55 494 327.2" fill="none" stroke="#b04fa8" stroke-width="0.9" stroke-linecap="butt" stroke-linejoin="round" stroke-dasharray="5 1.5 1 1.5" /><path d="M371 375.5 C372.5 374.75 375.17 373.42 380 371 C384.83 368.58 393.33 364.33 400 361 C406.67 357.67 413.33 354.17 420 351 C426.67 347.83 433.33 344.73 440 342 C446.67 339.27 453.33 336.72 460 334.6 C466.67 332.48 474.33 330.53 480 329.3 C485.67 328.07 491.67 327.55 494 327.2" fill="none" stroke="#3a70b4" stroke-width="0.6" stroke-linecap="butt" stroke-linejoin="round" stroke-dasharray="3 9" /><line x1="498" y1="327" x2="526" y2="324.3" stroke="#3a70b4" stroke-width="1.1" stroke-dasharray="3.5 2" /><polygon points="322,336 317.39,341.27 318.53,337.77 315.03,336.63" fill="#3a70b4"/><polygon points="463,333.6 457.7,338.17 459.31,334.87 456.01,333.26" fill="#3a70b4"/><polygon points="355.6,351 357.08,344.71 357.66,348.05 361.01,347.46" fill="#3a70b4"/><polygon points="395,363.5 392.02,366.51 390.79,364" fill="#b04fa8"/><path d="M528.8 316.8 C529.58 316.17 532.17 314.55 533.5 313 C534.83 311.45 536.12 309.42 536.8 307.5 C537.48 305.58 537.65 303.58 537.6 301.5 C537.55 299.42 537.1 297.25 536.5 295 C535.9 292.75 535.25 290.5 534 288 C532.75 285.5 531 282.5 529 280 C527 277.5 524.17 274.67 522 273 C519.83 271.33 517 270.5 516 270" fill="none" stroke="#3a70b4" stroke-width="1.25" stroke-linecap="butt" stroke-linejoin="round" stroke-dasharray="2.4 2" /><polygon points="535.4,288 539.92,294.04 536.49,292.06 534.51,295.49" fill="#3a70b4"/><g transform="translate(365.5 265.5) rotate(62.97)"><rect x="-16.5" y="-1.3" width="33.01" height="2.6" rx="1.3" fill="#b9cdea" stroke="#3565b8" stroke-width="0.9"/><line x1="-15" y1="0" x2="15" y2="0" stroke="#fff" stroke-width="0.9" stroke-dasharray="2.2 1.2"/></g><g transform="translate(416.6 253.65) rotate(86.03)"><rect x="-8.67" y="-1.4" width="17.34" height="2.8" rx="1.4" fill="#b9cdea" stroke="#3565b8" stroke-width="0.9"/><line x1="-7.17" y1="0" x2="7.17" y2="0" stroke="#fff" stroke-width="0.9" stroke-dasharray="2.2 1.2"/></g><g transform="translate(433 254.8) rotate(104.38)"><rect x="-8.05" y="-1.4" width="16.1" height="2.8" rx="1.4" fill="#b9cdea" stroke="#3565b8" stroke-width="0.9"/><line x1="-6.55" y1="0" x2="6.55" y2="0" stroke="#fff" stroke-width="0.9" stroke-dasharray="2.2 1.2"/></g><g transform="translate(447.9 263.5) rotate(143.28)"><rect x="-7.86" y="-1.4" width="15.72" height="2.8" rx="1.4" fill="#b9cdea" stroke="#3565b8" stroke-width="0.9"/><line x1="-6.36" y1="0" x2="6.36" y2="0" stroke="#fff" stroke-width="0.9" stroke-dasharray="2.2 1.2"/></g><g transform="translate(440 284.6) rotate(31.87)"><rect x="-8.71" y="-1.4" width="17.43" height="2.8" rx="1.4" fill="#b9cdea" stroke="#3565b8" stroke-width="0.9"/><line x1="-7.21" y1="0" x2="7.21" y2="0" stroke="#fff" stroke-width="0.9" stroke-dasharray="2.2 1.2"/></g><g transform="translate(337.1 328.6) rotate(68.33)"><rect x="-8.39" y="-1.4" width="16.79" height="2.8" rx="1.4" fill="#b9cdea" stroke="#3565b8" stroke-width="0.9"/><line x1="-6.89" y1="0" x2="6.89" y2="0" stroke="#fff" stroke-width="0.9" stroke-dasharray="2.2 1.2"/></g><g transform="translate(360 340.5) rotate(32.74)"><rect x="-8.32" y="-1.4" width="16.64" height="2.8" rx="1.4" fill="#b9cdea" stroke="#3565b8" stroke-width="0.9"/><line x1="-6.82" y1="0" x2="6.82" y2="0" stroke="#fff" stroke-width="0.9" stroke-dasharray="2.2 1.2"/></g><g transform="translate(373.6 373.9) rotate(58.92)"><rect x="-8.52" y="-1.4" width="17.05" height="2.8" rx="1.4" fill="#b9cdea" stroke="#3565b8" stroke-width="0.9"/><line x1="-7.02" y1="0" x2="7.02" y2="0" stroke="#fff" stroke-width="0.9" stroke-dasharray="2.2 1.2"/></g><g transform="translate(495.5 327.7) rotate(79.76)"><rect x="-8.43" y="-1.4" width="16.87" height="2.8" rx="1.4" fill="#b9cdea" stroke="#3565b8" stroke-width="0.9"/><line x1="-6.93" y1="0" x2="6.93" y2="0" stroke="#fff" stroke-width="0.9" stroke-dasharray="2.2 1.2"/></g><g transform="translate(536.8 297.75) rotate(-5.71)"><rect x="-8.54" y="-1.3" width="17.08" height="2.6" rx="1.3" fill="#b9cdea" stroke="#3565b8" stroke-width="0.9"/><line x1="-7.04" y1="0" x2="7.04" y2="0" stroke="#fff" stroke-width="0.9" stroke-dasharray="2.2 1.2"/></g><g transform="translate(435 344.6) rotate(-24)" stroke="#3a70b4" stroke-width="1" fill="none"><rect x="-7" y="-6.8" width="14" height="13.6" fill="#fff"/><line x1="-7" y1="-6.8" x2="7" y2="6.8"/><line x1="-7" y1="6.8" x2="7" y2="-6.8"/></g><circle cx="425.84" cy="341.24" r="1" fill="#3a70b4"/><circle cx="438.63" cy="335.54" r="1" fill="#3a70b4"/><circle cx="431.37" cy="353.66" r="1" fill="#3a70b4"/><circle cx="444.16" cy="347.96" r="1" fill="#3a70b4"/><line x1="492.6" y1="270" x2="498.6" y2="284.6" stroke="#e8382a" stroke-width="3" stroke-linecap="round"/><circle cx="440" cy="296" r="1.5" fill="#dbe5f5" stroke="#2f5fb0" stroke-width="1.1"/><circle cx="356.6" cy="330" r="1.5" fill="#dbe5f5" stroke="#2f5fb0" stroke-width="1.1"/><circle cx="356" cy="370.4" r="1.5" fill="#dbe5f5" stroke="#2f5fb0" stroke-width="1.1"/><circle cx="528.9" cy="316.7" r="1.5" fill="#dbe5f5" stroke="#2f5fb0" stroke-width="1.1"/><circle cx="502" cy="218" r="8" fill="#cfcfd4" stroke="#3b78c4" stroke-width="2"/><rect x="579.6" y="234.6" width="6.8" height="6.5" fill="#e8262a"/><rect x="579.6" y="245.9" width="6.8" height="6.5" fill="#f8e71c"/><rect x="579.6" y="257.2" width="6.8" height="6.5" fill="#254fa3"/><rect x="579.6" y="268.5" width="6.8" height="6.5" fill="#6dbb2a"/><rect x="579.6" y="279.8" width="6.8" height="6.5" fill="#b862b2"/><line x1="355" y1="280.5" x2="365" y2="309" stroke="#b04fa8" stroke-width="0.8" stroke-dasharray="3 1.5" /><polygon points="354.6,279.4 356.7,282.06 354.58,282.79" fill="#b04fa8"/><polygon points="365.4,310 363.3,307.34 365.42,306.61" fill="#b04fa8"/><text x="359" y="297" font-size="3.6" fill="#b04fa8" text-anchor="middle" font-weight="bold" font-family="Liberation Sans, sans-serif" transform="rotate(70 359 297)" >6</text><line x1="382.2" y1="240.5" x2="387" y2="270" stroke="#b04fa8" stroke-width="0.8" /><text x="385.6" y="247.5" font-size="3.6" fill="#b04fa8" text-anchor="middle" font-weight="bold" font-family="Liberation Sans, sans-serif" transform="rotate(82 385.6 247.5)" >3.5m</text><line x1="417.4" y1="240" x2="438" y2="241" stroke="#b04fa8" stroke-width="0.8" stroke-dasharray="3 1.5" /><polygon points="416.4,240 419.4,238.95 419.4,241.05" fill="#b04fa8"/><polygon points="439,241 436,242.05 436,239.95" fill="#b04fa8"/><line x1="424" y1="267" x2="452" y2="287" stroke="#b04fa8" stroke-width="0.8" /><text x="431" y="270.5" font-size="3.6" fill="#b04fa8" text-anchor="middle" font-weight="bold" font-family="Liberation Sans, sans-serif" transform="rotate(36 431 270.5)" >13m</text><line x1="474.4" y1="263" x2="479.4" y2="294" stroke="#b04fa8" stroke-width="0.8" /><text x="476.5" y="270" font-size="3.6" fill="#b04fa8" text-anchor="middle" font-weight="bold" font-family="Liberation Sans, sans-serif" transform="rotate(82 476.5 270)" >3.5m</text><line x1="326" y1="320" x2="340" y2="352" stroke="#b04fa8" stroke-width="0.8" /><text x="336.5" y="344" font-size="3.6" fill="#b04fa8" text-anchor="middle" font-weight="bold" font-family="Liberation Sans, sans-serif" transform="rotate(68 336.5 344)" >3.5m</text><line x1="340" y1="351" x2="369" y2="363" stroke="#b04fa8" stroke-width="0.8" /><text x="361" y="357.5" font-size="3.6" fill="#b04fa8" text-anchor="middle" font-weight="bold" font-family="Liberation Sans, sans-serif" transform="rotate(22 361 357.5)" >1.5m</text><line x1="284" y1="357" x2="308" y2="364.5" stroke="#b04fa8" stroke-width="0.8" /><text x="305" y="366" font-size="3.6" fill="#b04fa8" text-anchor="middle" font-weight="bold" font-family="Liberation Sans, sans-serif" transform="rotate(18 305 366)" >5m</text><line x1="363.5" y1="300" x2="365.2" y2="309" stroke="#b04fa8" stroke-width="0.8" /><line x1="505" y1="318" x2="510" y2="348" stroke="#b04fa8" stroke-width="0.8" /><text x="510" y="344" font-size="3.6" fill="#b04fa8" text-anchor="middle" font-weight="bold" font-family="Liberation Sans, sans-serif" transform="rotate(80 510 344)" >4.5m</text><line x1="368" y1="231.5" x2="358.6" y2="246" stroke="#b04fa8" stroke-width="0.7" /><polygon points="358,247 358.61,244.31 360.15,245.28" fill="#b04fa8"/><line x1="488" y1="201" x2="496.6" y2="212.4" stroke="#b04fa8" stroke-width="0.7" /><polygon points="497,213 494.71,211.47 496.17,210.37" fill="#b04fa8"/><line x1="506" y1="254" x2="496.4" y2="266.4" stroke="#b04fa8" stroke-width="0.7" /><polygon points="496,267 496.86,264.38 498.31,265.49" fill="#b04fa8"/><line x1="583" y1="216" x2="589.6" y2="231" stroke="#b04fa8" stroke-width="0.7" /><polygon points="590,232 588.12,229.98 589.79,229.25" fill="#b04fa8"/><line x1="454" y1="364" x2="442.6" y2="352.6" stroke="#b04fa8" stroke-width="0.7" /><polygon points="442,352 444.48,353.2 443.2,354.48" fill="#b04fa8"/><text x="169.2" y="55.6" font-size="26" fill="#231f20" text-anchor="start" font-weight="bold" font-family="Liberation Sans, Noto Sans CJK SC, sans-serif" textLength="62.3" lengthAdjust="spacingAndGlyphs">2024</text><text x="231.46" y="55.3" font-size="23.6" fill="#231f20" text-anchor="start" font-weight="bold" font-family="Liberation Sans, Noto Sans CJK SC, sans-serif" textLength="378" lengthAdjust="spacing">世界无人机锦标赛赛道信息示意图</text><text x="168" y="76.5" font-size="9.5" fill="#231f20" text-anchor="start" font-weight="normal" font-family="Liberation Sans, sans-serif" letter-spacing="0.221" stroke="#231f20" stroke-width="0.38">2024 FAI WORLD DRONE RACING CHAMPIONSHIP TRACK CIRCUIT INFORMATION DIAGRAM</text><text x="479" y="193.6" font-size="5.7" fill="#e8323a" text-anchor="start" font-weight="bold" font-family="Liberation Serif, Noto Serif CJK SC, serif" textLength="17" lengthAdjust="spacing">降落点</text><text x="470" y="198.8" font-size="4.8" fill="#e8323a" text-anchor="start" font-weight="bold" font-family="Liberation Mono, sans-serif" textLength="37.2" lengthAdjust="spacingAndGlyphs" >Landing point</text><text x="495" y="244.9" font-size="5.7" fill="#e8323a" text-anchor="start" font-weight="bold" font-family="Liberation Serif, Noto Serif CJK SC, serif" textLength="17" lengthAdjust="spacing">起点门</text><text x="484" y="251.6" font-size="4.9" fill="#e8323a" text-anchor="start" font-weight="bold" font-family="Liberation Mono, sans-serif" textLength="38.5" lengthAdjust="spacingAndGlyphs" >Starting gate</text><text x="560" y="207.4" font-size="5.7" fill="#e8323a" text-anchor="start" font-weight="bold" font-family="Liberation Serif, Noto Serif CJK SC, serif" textLength="17" lengthAdjust="spacing">起飞台</text><text x="544.5" y="213.4" font-size="4.9" fill="#e8323a" text-anchor="start" font-weight="bold" font-family="Liberation Mono, sans-serif" textLength="49.5" lengthAdjust="spacingAndGlyphs" >Take-off platform</text><text x="357" y="229.9" font-size="5.8" fill="#3a70b4" text-anchor="start" font-weight="bold" font-family="Liberation Serif, Noto Serif CJK SC, serif" textLength="19" lengthAdjust="spacing">品字门</text><text x="456" y="367.6" font-size="5.8" fill="#3a70b4" text-anchor="start" font-weight="bold" font-family="Liberation Serif, Noto Serif CJK SC, serif" textLength="33" lengthAdjust="spacing">双层重力门</text><text x="591.6" y="237.6" font-size="3.7" fill="#2f5fb0" text-anchor="start" font-weight="bold" font-family="Liberation Sans, Noto Sans CJK SC, sans-serif">红色</text><text x="592.2" y="241.7" font-size="2.9" fill="#2f5fb0" text-anchor="start" font-weight="bold" font-family="Liberation Mono, sans-serif" >Red</text><text x="591.6" y="248.9" font-size="3.7" fill="#2f5fb0" text-anchor="start" font-weight="bold" font-family="Liberation Sans, Noto Sans CJK SC, sans-serif">黄色</text><text x="591.4" y="253" font-size="2.9" fill="#2f5fb0" text-anchor="start" font-weight="bold" font-family="Liberation Mono, sans-serif" >Yellow</text><text x="591.6" y="260.2" font-size="3.7" fill="#2f5fb0" text-anchor="start" font-weight="bold" font-family="Liberation Sans, Noto Sans CJK SC, sans-serif">蓝色</text><text x="592.2" y="264.3" font-size="2.9" fill="#2f5fb0" text-anchor="start" font-weight="bold" font-family="Liberation Mono, sans-serif" >Blue</text><text x="591.6" y="271.5" font-size="3.7" fill="#2f5fb0" text-anchor="start" font-weight="bold" font-family="Liberation Sans, Noto Sans CJK SC, sans-serif">绿色</text><text x="592.2" y="275.6" font-size="2.9" fill="#2f5fb0" text-anchor="start" font-weight="bold" font-family="Liberation Mono, sans-serif" >Green</text><text x="591.6" y="282.8" font-size="3.7" fill="#2f5fb0" text-anchor="start" font-weight="bold" font-family="Liberation Sans, Noto Sans CJK SC, sans-serif">品红色</text><text x="591.4" y="286.9" font-size="2.9" fill="#2f5fb0" text-anchor="start" font-weight="bold" font-family="Liberation Mono, sans-serif" >Magenta</text><rect x="650.6" y="93.6" width="111.4" height="236.8" rx="9" fill="none" stroke="#c4c4c4" stroke-width="0.9" stroke-dasharray="1 1.4"/><text x="707.8" y="107.8" font-size="5.9" fill="#231f20" text-anchor="start" font-weight="bold" font-family="Liberation Sans, Noto Sans CJK SC, sans-serif">起飞台</text><text x="708" y="112" font-size="3.72" fill="#231f20" text-anchor="start" font-weight="bold" font-family="Liberation Sans, sans-serif" >Take-off platform</text><text x="707.8" y="128.4" font-size="5.9" fill="#231f20" text-anchor="start" font-weight="bold" font-family="Liberation Sans, Noto Sans CJK SC, sans-serif">降落点</text><text x="708" y="132.6" font-size="3.72" fill="#231f20" text-anchor="start" font-weight="bold" font-family="Liberation Sans, sans-serif" >Landing point</text><text x="707.8" y="149.6" font-size="5.9" fill="#231f20" text-anchor="start" font-weight="bold" font-family="Liberation Sans, Noto Sans CJK SC, sans-serif" textLength="45.1" lengthAdjust="spacing">3*3m六边形单门</text><text x="708" y="153.8" font-size="3.72" fill="#231f20" text-anchor="start" font-weight="bold" font-family="Liberation Sans, sans-serif" >3*3m hexagonal single door</text><text x="707.8" y="170" font-size="5.9" fill="#231f20" text-anchor="start" font-weight="bold" font-family="Liberation Sans, Noto Sans CJK SC, sans-serif" textLength="37.9" lengthAdjust="spacing">3m L型障碍物</text><text x="708" y="174.2" font-size="3.72" fill="#231f20" text-anchor="start" font-weight="bold" font-family="Liberation Sans, sans-serif" >3m L-shaped obstacles</text><text x="707.8" y="191" font-size="5.9" fill="#231f20" text-anchor="start" font-weight="bold" font-family="Liberation Sans, Noto Sans CJK SC, sans-serif" textLength="45.1" lengthAdjust="spacing">3*6m双层重力门</text><text x="708" y="195.2" font-size="3.72" fill="#231f20" text-anchor="start" font-weight="bold" font-family="Liberation Sans, sans-serif" >3*6m double gravity door</text><text x="707.8" y="211" font-size="5.9" fill="#231f20" text-anchor="start" font-weight="bold" font-family="Liberation Sans, Noto Sans CJK SC, sans-serif" textLength="39.8" lengthAdjust="spacing">3*3*3m品字门</text><text x="708" y="215.2" font-size="3.72" fill="#231f20" text-anchor="start" font-weight="bold" font-family="Liberation Sans, sans-serif" >3*3*3m quality word gate</text><text x="707.8" y="232.8" font-size="5.9" fill="#231f20" text-anchor="start" font-weight="bold" font-family="Liberation Sans, Noto Sans CJK SC, sans-serif" textLength="27.4" lengthAdjust="spacing">3*3m单门</text><text x="708" y="237" font-size="3.72" fill="#231f20" text-anchor="start" font-weight="bold" font-family="Liberation Sans, sans-serif" >3*3*3m single door</text><text x="707.8" y="252.8" font-size="5.9" fill="#231f20" text-anchor="start" font-weight="bold" font-family="Liberation Sans, Noto Sans CJK SC, sans-serif" textLength="21" lengthAdjust="spacing">5m刀旗</text><text x="708" y="257" font-size="3.72" fill="#231f20" text-anchor="start" font-weight="bold" font-family="Liberation Sans, sans-serif" >5m flag</text><text x="707.8" y="274.3" font-size="5.9" fill="#231f20" text-anchor="start" font-weight="bold" font-family="Liberation Sans, Noto Sans CJK SC, sans-serif" textLength="39.2" lengthAdjust="spacing">3*8m起飞指引</text><text x="708" y="278.5" font-size="3.72" fill="#231f20" text-anchor="start" font-weight="bold" font-family="Liberation Sans, sans-serif" >3*8m take-off instructions</text><text x="707.8" y="294.6" font-size="5.9" fill="#231f20" text-anchor="start" font-weight="bold" font-family="Liberation Sans, Noto Sans CJK SC, sans-serif">赛道长度</text><text x="708" y="298.8" font-size="3.72" fill="#231f20" text-anchor="start" font-weight="bold" font-family="Liberation Sans, sans-serif" >Track length</text><text x="707.8" y="316.2" font-size="5.9" fill="#231f20" text-anchor="start" font-weight="bold" font-family="Liberation Sans, Noto Sans CJK SC, sans-serif">赛道高度</text><text x="708" y="320.4" font-size="3.72" fill="#231f20" text-anchor="start" font-weight="bold" font-family="Liberation Sans, sans-serif" >Track height</text><rect x="659.4" y="105.9" width="3.1" height="3.1" fill="#b92fa8"/><rect x="664.15" y="105.9" width="3.1" height="3.1" fill="#55b828"/><rect x="668.9" y="105.9" width="3.1" height="3.1" fill="#1f55b5"/><rect x="673.65" y="105.9" width="3.1" height="3.1" fill="#f5e41a"/><rect x="678.4" y="105.9" width="3.1" height="3.1" fill="#e8202a"/><circle cx="664.4" cy="128.7" r="5.1" fill="#cfcfd4" stroke="#3b78c4" stroke-width="1.3"/><rect x="658.8" y="143.8" width="17.2" height="2.8" rx="1.2" fill="#cfe6a0" stroke="#8dc21f" stroke-width="0.7"/><line x1="660.5" y1="145.2" x2="674.5" y2="145.2" stroke="#fff" stroke-width="0.8" stroke-dasharray="2.4 1.2"/><rect x="658.8" y="147.9" width="17.2" height="2.8" rx="1.2" fill="#a9e2e6" stroke="#2fbcc4" stroke-width="0.7"/><line x1="660.5" y1="149.3" x2="674.5" y2="149.3" stroke="#fff" stroke-width="0.8" stroke-dasharray="2.4 1.2"/><rect x="658.8" y="152" width="17.2" height="2.8" rx="1.2" fill="#a9b8e6" stroke="#3a5fc0" stroke-width="0.7"/><line x1="660.5" y1="153.4" x2="674.5" y2="153.4" stroke="#fff" stroke-width="0.8" stroke-dasharray="2.4 1.2"/><g fill="#9bc93e"><rect x="659.2" y="162.6" width="4" height="1.6" rx="0.7"/><rect x="660.5" y="163" width="1.5" height="4.2" rx="0.6"/><circle cx="659.6" cy="163.2" r="0.9"/><circle cx="662.9" cy="163.2" r="0.9"/><rect x="659.2" y="175.6" width="4" height="1.6" rx="0.7"/><rect x="660.5" y="172.4" width="1.5" height="4.2" rx="0.6"/><circle cx="659.6" cy="176.6" r="0.9"/><circle cx="662.9" cy="176.6" r="0.9"/><circle cx="661.2" cy="172.6" r="0.9"/></g><g stroke="#3565c0" stroke-width="0.8" fill="none"><rect x="658.9" y="185.2" width="11.2" height="10.8"/><line x1="658.9" y1="185.2" x2="670.1" y2="196"/><line x1="658.9" y1="196" x2="670.1" y2="185.2"/></g><circle cx="658.9" cy="185.2" r="0.8" fill="#3565c0"/><circle cx="670.1" cy="185.2" r="0.8" fill="#3565c0"/><circle cx="658.9" cy="196" r="0.8" fill="#3565c0"/><circle cx="670.1" cy="196" r="0.8" fill="#3565c0"/><rect x="658.8" y="209.8" width="33.2" height="2.5" rx="1.2" fill="#a9b8e6" stroke="#3a5fc0" stroke-width="0.7"/><line x1="660" y1="211.05" x2="691" y2="211.05" stroke="#dfe6fa" stroke-width="0.7" stroke-dasharray="2.4 1.2"/><line x1="675.4" y1="209.8" x2="675.4" y2="212.3" stroke="#3a5fc0" stroke-width="0.7"/><rect x="658.8" y="228.85" width="17.2" height="2.3" rx="1.1" fill="#d7e8a8" stroke="#a5c94a" stroke-width="0.7"/><line x1="660.5" y1="230" x2="674.5" y2="230" stroke="#fff" stroke-width="0.6"/><rect x="658.8" y="233.35" width="17.2" height="2.3" rx="1.1" fill="#a9e2e6" stroke="#2fbcc4" stroke-width="0.7"/><line x1="660.5" y1="234.5" x2="674.5" y2="234.5" stroke="#fff" stroke-width="0.6"/><circle cx="660.6" cy="252.7" r="1.4" fill="#cfdcf5" stroke="#2f5fb0" stroke-width="1.3"/><line x1="659" y1="267.3" x2="690.4" y2="267.3" stroke="#3565c0" stroke-width="1.4" /><line x1="659" y1="279.2" x2="690.4" y2="279.2" stroke="#3565c0" stroke-width="1.4" /><line x1="659.4" y1="268.5" x2="659.4" y2="278.6" stroke="#3565c0" stroke-width="1.0" stroke-dasharray="1 1.5" /><line x1="690" y1="268.5" x2="690" y2="278.6" stroke="#3565c0" stroke-width="1.0" stroke-dasharray="1 1.5" /><line x1="659" y1="296.8" x2="691.2" y2="296.8" stroke="#c06fb8" stroke-width="1.2" /><text x="659.4" y="295.6" font-size="3.5" fill="#b04fa8" text-anchor="start" font-weight="bold" font-family="Liberation Sans, sans-serif" stroke="#b04fa8" stroke-width="0.2">10m</text><text x="658.6" y="317.4" font-size="4.0" fill="#e60012" text-anchor="start" font-weight="bold" font-family="Liberation Sans, sans-serif" stroke="#e60012" stroke-width="0.25">3.5m</text><line x1="668.6" y1="316" x2="686" y2="316" stroke="#e60012" stroke-width="0.7" /><polygon points="688.4,316 685,317.02 685,314.98" fill="#e60012"/><text x="579.6" y="348.9" font-size="5.75" fill="#231f20" text-anchor="start" font-weight="bold" font-family="Liberation Sans, Noto Sans CJK SC, sans-serif" textLength="186.1" lengthAdjust="spacingAndGlyphs">1.赛道长度约600m。（赛道平面红色部分为腾空赛道，蓝色为底面赛道）</text><text x="579.6" y="358.2" font-size="5.75" fill="#231f20" text-anchor="start" font-weight="bold" font-family="Liberation Sans, Noto Sans CJK SC, sans-serif" textLength="172" lengthAdjust="spacingAndGlyphs">2.赛道长120m,宽68m，线路宽度为3米，总体占地面积8160平方米</text><text x="579.6" y="367.8" font-size="5.75" fill="#231f20" text-anchor="start" font-weight="bold" font-family="Liberation Sans, Noto Sans CJK SC, sans-serif" textLength="184.3" lengthAdjust="spacingAndGlyphs">3.赛道分为三层，以地面为基准，第二层高度为3.5m，第三层高度为7m</text><text x="579.6" y="376.9" font-size="5.75" fill="#231f20" text-anchor="start" font-weight="bold" font-family="Liberation Sans, Noto Sans CJK SC, sans-serif" textLength="108.2" lengthAdjust="spacingAndGlyphs">4.赛道内设门类障碍物43个，L障碍物12个</text><text x="579.6" y="393.6" font-size="6.1" fill="#231f20" text-anchor="start" font-weight="normal" font-family="Liberation Sans, sans-serif" word-spacing="0.476" stroke="#231f20" stroke-width="0.12">1.The track length is about 600m. (The red part of the track plane is the</text><text x="579.6" y="402.4" font-size="6.1" fill="#231f20" text-anchor="start" font-weight="normal" font-family="Liberation Sans, sans-serif" stroke="#231f20" stroke-width="0.12">vacated track, and the blue part is the underside track).</text><text x="579.6" y="411.2" font-size="6.1" fill="#231f20" text-anchor="start" font-weight="normal" font-family="Liberation Sans, sans-serif" word-spacing="0.936" stroke="#231f20" stroke-width="0.12">2.The track is 120m long, 68m wide and 3m wide, with a total area of</text><text x="579.6" y="420" font-size="6.1" fill="#231f20" text-anchor="start" font-weight="normal" font-family="Liberation Sans, sans-serif" stroke="#231f20" stroke-width="0.12">8160 square meters.</text><text x="579.6" y="428.8" font-size="6.1" fill="#231f20" text-anchor="start" font-weight="normal" font-family="Liberation Sans, sans-serif" word-spacing="0.667" stroke="#231f20" stroke-width="0.12">3.The track is divided into three floors, based on the ground, the height</text><text x="579.6" y="437.7" font-size="6.1" fill="#231f20" text-anchor="start" font-weight="normal" font-family="Liberation Sans, sans-serif" word-spacing="1.226" stroke="#231f20" stroke-width="0.12">of the second floors is 3.5m, and the height of the third floors is 7m.</text><text x="579.6" y="446.5" font-size="6.1" fill="#231f20" text-anchor="start" font-weight="normal" font-family="Liberation Sans, sans-serif" stroke="#231f20" stroke-width="0.12">4.The track have 43 category obstacles and 12 L obstacles .</text></g>
</svg>
</body></html>
